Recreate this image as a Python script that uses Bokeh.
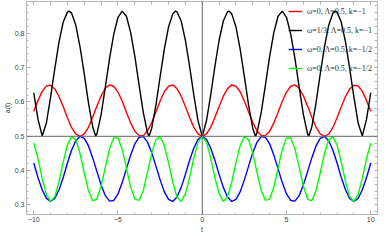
from bokeh.plotting import figure
from bokeh.models import FixedTicker, LinearAxis, Range1d, Span, Legend, LegendItem
from bokeh.embed import file_html
from bokeh.resources import INLINE

# ---- data ----
t = [-10, -9.75, -9.5, -9.25, -9, -8.75, -8.5, -8.25, -8, -7.75, -7.5, -7.25, -7, -6.75, -6.5, -6.25,
     -6, -5.75, -5.5, -5.25, -5, -4.75, -4.5, -4.25, -4, -3.75, -3.5, -3.25, -3, -2.75, -2.5, -2.25,
     -2, -1.75, -1.5, -1.25, -1, -0.75, -0.5, -0.25, 0, 0.25, 0.5, 0.75, 1, 1.25, 1.5, 1.75,
     2, 2.25, 2.5, 2.75, 3, 3.25, 3.5, 3.75, 4, 4.25, 4.5, 4.75, 5, 5.25, 5.5, 5.75,
     6, 6.25, 6.5, 6.75, 7, 7.25, 7.5, 7.75, 8, 8.25, 8.5, 8.75, 9, 9.25, 9.5, 9.75, 10]

red = [0.573, 0.604, 0.631, 0.647, 0.649, 0.638, 0.616, 0.586, 0.554, 0.525, 0.506, 0.500, 0.507, 0.527,
       0.556, 0.588, 0.618, 0.640, 0.650, 0.646, 0.629, 0.602, 0.570, 0.539, 0.515, 0.502, 0.502, 0.516,
       0.540, 0.571, 0.603, 0.630, 0.646, 0.650, 0.639, 0.617, 0.587, 0.555, 0.526, 0.507,
       0.500,
       0.507, 0.526, 0.555, 0.587, 0.617, 0.639, 0.650, 0.646, 0.630, 0.603, 0.571, 0.540, 0.516, 0.502,
       0.502, 0.515, 0.539, 0.570, 0.602, 0.629, 0.646, 0.650, 0.640, 0.618, 0.588, 0.556, 0.527, 0.507,
       0.500, 0.506, 0.525, 0.554, 0.586, 0.616, 0.638, 0.649, 0.647, 0.631, 0.604, 0.573]

blue = [0.422, 0.380, 0.344, 0.319, 0.310, 0.319, 0.344, 0.380, 0.422, 0.460, 0.487, 0.500, 0.494, 0.472,
        0.437, 0.397, 0.358, 0.327, 0.311, 0.313, 0.332, 0.365, 0.405, 0.445, 0.478, 0.497, 0.499, 0.483,
        0.453, 0.413, 0.373, 0.338, 0.316, 0.310, 0.323, 0.351, 0.389, 0.430, 0.466, 0.491,
        0.500,
        0.491, 0.466, 0.430, 0.389, 0.351, 0.323, 0.310, 0.316, 0.338, 0.373, 0.413, 0.453, 0.483, 0.499,
        0.497, 0.478, 0.445, 0.405, 0.365, 0.332, 0.313, 0.311, 0.327, 0.358, 0.397, 0.437, 0.472, 0.494,
        0.500, 0.487, 0.460, 0.422, 0.380, 0.344, 0.319, 0.310, 0.319, 0.344, 0.380, 0.422]

green = [0.481, 0.435, 0.378, 0.330, 0.310, 0.324, 0.368, 0.425, 0.475, 0.499, 0.489, 0.449, 0.393, 0.341,
         0.312, 0.317, 0.355, 0.410, 0.464, 0.496, 0.495, 0.462, 0.408, 0.352, 0.317, 0.313, 0.342, 0.395,
         0.451, 0.490, 0.499, 0.473, 0.423, 0.366, 0.323, 0.310, 0.332, 0.380, 0.437, 0.483,
         0.500,
         0.483, 0.437, 0.380, 0.332, 0.310, 0.323, 0.366, 0.423, 0.473, 0.499, 0.490, 0.451, 0.395, 0.342,
         0.313, 0.317, 0.352, 0.408, 0.462, 0.495, 0.496, 0.464, 0.410, 0.355, 0.317, 0.312, 0.341, 0.393,
         0.449, 0.489, 0.499, 0.475, 0.425, 0.368, 0.324, 0.310, 0.330, 0.378, 0.435, 0.481]

black_t = [-10, -9.75, -9.5, -9.25, -9, -8.75, -8.5, -8.25, -8, -7.9, -7.75, -7.5, -7.25, -7, -6.75, -6.5,
           -6.32, -6.25, -6, -5.75, -5.5, -5.25, -5, -4.75, -4.5, -4.25, -4, -3.75, -3.5, -3.25, -3.16,
           -3, -2.75, -2.5, -2.25, -2, -1.75, -1.58, -1.5, -1.25, -1, -0.75, -0.5, -0.25,
           0, 0.25, 0.5, 0.75, 1, 1.25, 1.5, 1.58, 1.75, 2, 2.25, 2.5, 2.75, 3, 3.16, 3.25, 3.5, 3.75,
           4, 4.25, 4.5, 4.75, 5, 5.25, 5.5, 5.75, 6, 6.25, 6.32, 6.5, 6.75, 7, 7.25, 7.5, 7.75, 7.9,
           8, 8.25, 8.5, 8.75, 9, 9.25, 9.5, 9.75, 10]
black = [0.627, 0.550, 0.501, 0.539, 0.614, 0.697, 0.775, 0.833, 0.862, 0.865, 0.859, 0.823, 0.760, 0.681,
         0.597, 0.527, 0.500, 0.507, 0.564, 0.644, 0.727, 0.798, 0.847, 0.865, 0.850, 0.803, 0.733, 0.650,
         0.570, 0.510, 0.500, 0.523, 0.591, 0.674, 0.754, 0.819, 0.857, 0.865, 0.863, 0.836, 0.780, 0.704,
         0.620, 0.545,
         0.500, 0.545, 0.620, 0.704, 0.780, 0.836, 0.863, 0.865, 0.857, 0.819, 0.754, 0.674, 0.591, 0.523,
         0.500, 0.510, 0.570, 0.650, 0.733, 0.803, 0.850, 0.865, 0.847, 0.798, 0.727, 0.644, 0.564, 0.507,
         0.500, 0.527, 0.597, 0.681, 0.760, 0.823, 0.859, 0.865, 0.862, 0.833, 0.775, 0.697, 0.614, 0.539,
         0.501, 0.550, 0.627]

labels = ["ω=0, Λ=0.5, k=−1", "ω=1/3, Λ=0.5, k=−1", "ω=0, Λ=0.5, k=−1/2", "ω=0, Λ=0.5, k=−1/2"]

x_ticks = [-10, -5, 0, 5, 10]
x_tick_labels = {-10: "−10", -5: "−5", 0: "0", 5: "5", 10: "10"}
x_minor = [-10, -9, -8, -7, -6, -5, -4, -3, -2, -1, 0, 1, 2, 3, 4, 5, 6, 7, 8, 9, 10]
y_ticks = [0.3, 0.4, 0.5, 0.6, 0.7, 0.8]
y_minor = [0.28, 0.30, 0.32, 0.34, 0.36, 0.38, 0.40, 0.42, 0.44, 0.46, 0.48, 0.50, 0.52, 0.54, 0.56,
           0.58, 0.60, 0.62, 0.64, 0.66, 0.68, 0.70, 0.72, 0.74, 0.76, 0.78, 0.80, 0.82, 0.84, 0.86, 0.88]

FRAME = "#b4b4b4"
TXT = "#444444"

p = figure(width=378, height=235, output_backend="svg", toolbar_location=None,
           x_range=Range1d(-10.43, 10.4), y_range=Range1d(0.272, 0.893),
           x_axis_label="t", y_axis_label="a(t)",
           min_border_left=0, min_border_right=1, min_border_top=1, min_border_bottom=0)
p.xgrid.visible = False
p.ygrid.visible = False
p.outline_line_color = FRAME
p.background_fill_color = "white"
p.border_fill_color = "white"


def style(ax):
    ax.axis_line_color = FRAME
    ax.major_tick_in = 4
    ax.major_tick_out = 0
    ax.minor_tick_in = 2
    ax.minor_tick_out = 0
    ax.major_tick_line_color = FRAME
    ax.minor_tick_line_color = FRAME
    ax.major_label_text_font = "Liberation Sans"
    ax.major_label_text_color = TXT
    ax.major_label_text_font_size = "7px"
    ax.major_label_standoff = 2
    ax.axis_label_text_font = "Liberation Sans"
    ax.axis_label_text_color = TXT
    ax.axis_label_text_font_style = "normal"
    ax.axis_label_text_font_size = "7px"
    ax.axis_label_standoff = 1


p.xaxis[0].ticker = FixedTicker(ticks=x_ticks, minor_ticks=x_minor)
p.xaxis[0].major_label_overrides = x_tick_labels
p.yaxis[0].ticker = FixedTicker(ticks=y_ticks, minor_ticks=y_minor)
style(p.xaxis[0])
style(p.yaxis[0])

# frame ticks on top and right (no labels: ticks drawn as minor ticks only)
for loc, minors in (("above", x_minor), ("right", y_minor)):
    ax = LinearAxis(ticker=FixedTicker(ticks=[], minor_ticks=minors))
    ax.axis_line_color = FRAME
    ax.minor_tick_in = 3
    ax.minor_tick_out = 0
    ax.minor_tick_line_color = FRAME
    ax.major_tick_in = 0
    ax.major_tick_out = 0
    ax.major_label_standoff = 0
    p.add_layout(ax, loc)

p.add_layout(Span(location=0, dimension="height", line_color="#666666", line_width=1))
p.add_layout(Span(location=0.5, dimension="width", line_color="#666666", line_width=1))

lw = 1.4
r_red = p.line(t, red, line_color="#ff0000", line_width=lw)
r_black = p.line(black_t, black, line_color="#000000", line_width=lw)
r_blue = p.line(t, blue, line_color="#0000ff", line_width=lw)
r_green = p.line(t, green, line_color="#00ff00", line_width=lw)

legend = Legend(items=[LegendItem(label=labels[0], renderers=[r_red]),
                       LegendItem(label=labels[1], renderers=[r_black]),
                       LegendItem(label=labels[2], renderers=[r_blue]),
                       LegendItem(label=labels[3], renderers=[r_green])],
                location="top_right")
legend.background_fill_alpha = 0
legend.border_line_alpha = 0
legend.label_text_font = "Liberation Serif"
legend.label_text_font_size = "8px"
legend.label_text_color = "#333333"
legend.glyph_width = 14
legend.glyph_height = 10
legend.label_height = 10
legend.label_width = 64
legend.label_standoff = 5
legend.spacing = 9
legend.padding = 5
legend.margin = 0
p.add_layout(legend, "center")

open("out.html", "w").write(file_html(p, INLINE))
